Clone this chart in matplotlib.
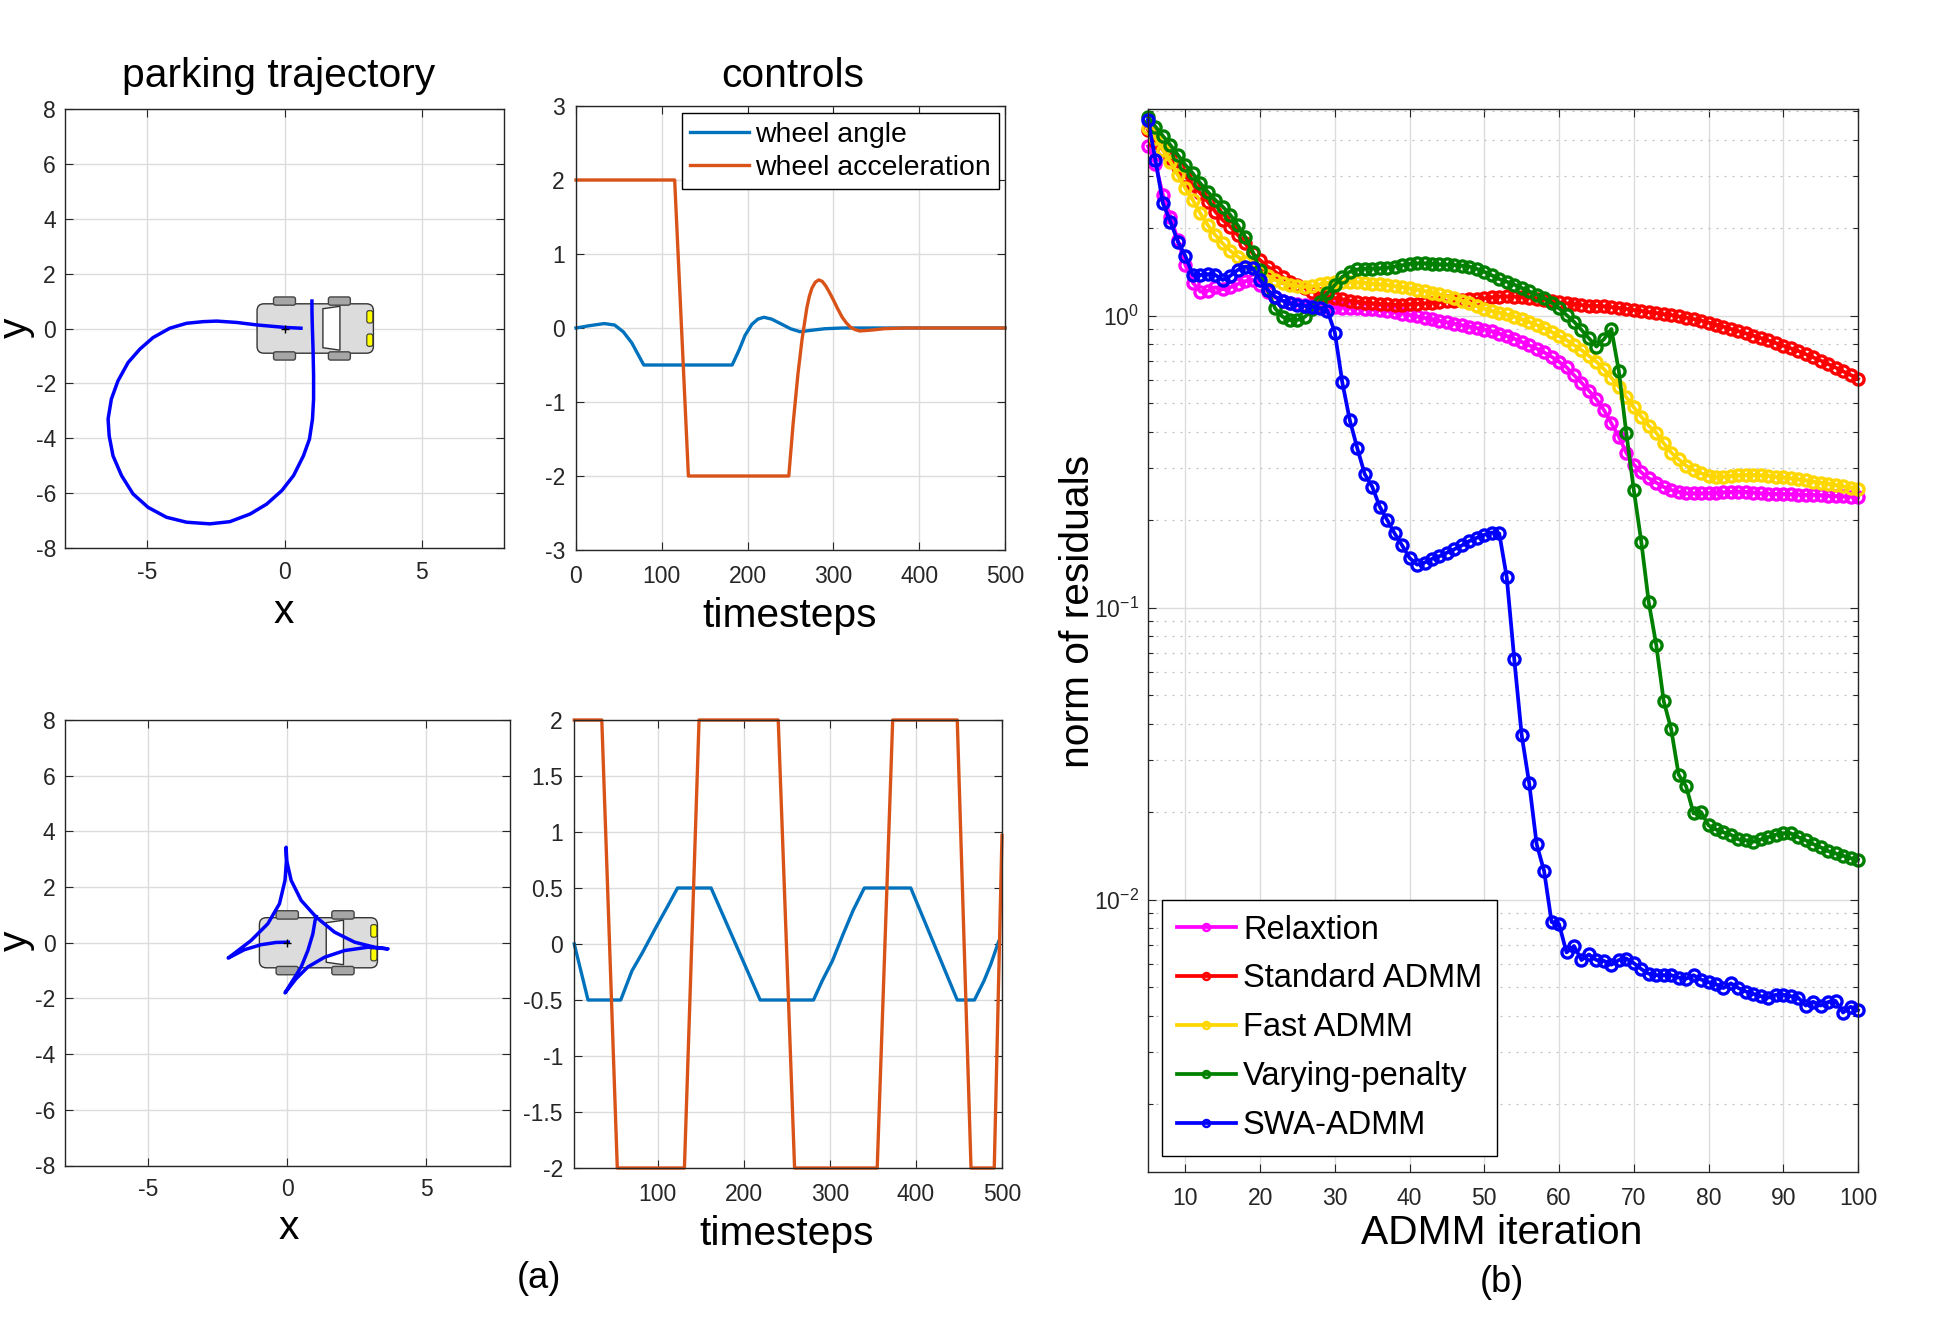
import numpy as np
import matplotlib
matplotlib.use('Agg')
import matplotlib.pyplot as plt
from matplotlib.patches import FancyBboxPatch, Polygon
from matplotlib.lines import Line2D
from matplotlib.ticker import FormatStrFormatter, LogLocator, NullFormatter

plt.rcParams['font.family'] = ['Liberation Sans', 'DejaVu Sans']
plt.rcParams['mathtext.fontset'] = 'custom'
plt.rcParams['mathtext.rm'] = 'Liberation Sans'
plt.rcParams['mathtext.default'] = 'regular'
plt.rcParams['axes.unicode_minus'] = False

# ---------------- data ----------------
# (a) top: parking trajectory (x, y)
park1_x = [0.60, 0.00, -1.01, -1.74, -2.47, -2.96, -3.57, -4.18, -4.79, -5.27, -5.70, -6.07,
           -6.31, -6.43, -6.39, -6.25, -5.94, -5.52, -4.97, -4.30, -3.57, -2.72, -1.99, -1.25,
           -0.65, -0.10, 0.33, 0.69, 0.91, 1.02, 1.06, 1.06, 1.04, 1.01, 1.00, 1.00]
park1_y = [0.01, 0.04, 0.13, 0.22, 0.27, 0.25, 0.19, 0.01, -0.33, -0.75, -1.24, -1.91,
           -2.57, -3.30, -3.91, -4.64, -5.36, -6.03, -6.52, -6.88, -7.06, -7.12, -7.04, -6.76,
           -6.40, -5.91, -5.36, -4.64, -4.03, -3.30, -2.57, -1.72, -0.75, 0.22, 0.70, 1.00]

# (a) bottom: trajectory with three cusps
park2_x = [1.04, 1.00, 0.92, 0.74, 0.50, 0.20, -0.08,
           0.32, 0.74, 1.34, 2.06, 2.90, 3.62,
           3.14, 2.42, 1.70, 1.04, 0.50, 0.14, -0.02, -0.04,
           -0.03, -0.08, -0.28, -0.70, -1.30, -2.12,
           -1.54, -0.94, -0.40, 0.04]
park2_y = [0.94, 0.80, 0.32, -0.28, -0.87, -1.35, -1.80,
           -1.29, -0.87, -0.52, -0.28, -0.16, -0.22,
           -0.16, 0.02, 0.38, 0.92, 1.52, 2.24, 2.95, 3.43,
           2.95, 2.24, 1.40, 0.68, 0.08, -0.55,
           -0.25, -0.07, 0.01, 0.02]

# controls, top
angle1_t = [0, 15, 33, 45, 55, 65, 72, 79, 182, 190, 197, 205, 212, 219, 228, 240, 250, 261, 275, 290, 310, 500]
angle1_v = [0.0, 0.03, 0.06, 0.04, -0.05, -0.2, -0.35, -0.5, -0.5, -0.3, -0.1, 0.05, 0.12, 0.145, 0.12,
            0.05, -0.01, -0.05, -0.03, -0.01, 0.0, 0.0]
accel1_t = [0, 115, 131, 248, 253, 258.6, 263.5, 269, 272, 275, 279, 283, 287, 291, 295, 299.5, 305,
            310, 315, 320, 325, 330.6, 343, 359, 384, 500]
accel1_v = [2, 2, -2, -2, -1.30, -0.63, -0.15, 0.27, 0.43, 0.54, 0.62, 0.65, 0.63, 0.57, 0.49, 0.39,
            0.26, 0.15, 0.07, 0.01, -0.02, -0.04, -0.03, -0.01, 0.0, 0.0]

# controls, bottom
angle2_t = [3, 19, 57, 70, 82, 98, 111, 123, 162, 219, 281, 291, 303, 315, 327, 340, 394, 448, 468,
            479, 487, 496]
angle2_v = [0.0, -0.5, -0.5, -0.24, -0.08, 0.15, 0.33, 0.5, 0.5, -0.5, -0.5, -0.33, -0.15, 0.08, 0.30,
            0.5, 0.5, -0.5, -0.5, -0.33, -0.18, 0.02]
accel2_t = [3, 35, 53, 131, 148, 240, 259, 355, 373, 448, 464, 491, 500]
accel2_v = [2, 2, -2, -2, 2, 2, -2, -2, 2, 2, -2, -2, 0.97]

# (b) norm of residuals, log10 values, iterations 5..100
iterations = list(range(5, 101))
relax_log10 = [0.580, 0.520, 0.413, 0.339, 0.259, 0.173, 0.113, 0.082, 0.085, 0.097,
               0.090, 0.097, 0.108, 0.118, 0.122, 0.105, 0.082, 0.062, 0.051, 0.044,
               0.040, 0.037, 0.035, 0.033, 0.031, 0.028, 0.027, 0.026, 0.025, 0.024,
               0.021, 0.019, 0.016, 0.011, 0.007, 0.002, -0.003, -0.008, -0.013, -0.018,
               -0.023, -0.028, -0.033, -0.038, -0.043, -0.048, -0.054, -0.062, -0.070, -0.079,
               -0.090, -0.102, -0.113, -0.126, -0.141, -0.158, -0.177, -0.204, -0.230, -0.257,
               -0.287, -0.323, -0.369, -0.415, -0.470, -0.510, -0.537, -0.557, -0.572, -0.587,
               -0.597, -0.604, -0.609, -0.609, -0.609, -0.608, -0.606, -0.605, -0.604, -0.603,
               -0.604, -0.606, -0.609, -0.610, -0.611, -0.611, -0.612, -0.613, -0.614, -0.614,
               -0.615, -0.617, -0.618, -0.619, -0.620, -0.622]
standard_log10 = [0.636, 0.596, 0.567, 0.539, 0.510, 0.478, 0.447, 0.419, 0.390, 0.356,
                  0.327, 0.305, 0.276, 0.247, 0.213, 0.190, 0.168, 0.150, 0.133, 0.116,
                  0.105, 0.093, 0.082, 0.074, 0.067, 0.060, 0.056, 0.051, 0.048, 0.044,
                  0.042, 0.040, 0.039, 0.037, 0.037, 0.039, 0.040, 0.042, 0.044, 0.046,
                  0.049, 0.051, 0.053, 0.056, 0.057, 0.059, 0.063, 0.065, 0.066, 0.065,
                  0.064, 0.061, 0.058, 0.055, 0.050, 0.045, 0.042, 0.039, 0.036, 0.034,
                  0.033, 0.032, 0.029, 0.026, 0.023, 0.019, 0.016, 0.012, 0.009, 0.005,
                  0.002, -0.003, -0.007, -0.012, -0.017, -0.024, -0.031, -0.038, -0.046, -0.053,
                  -0.061, -0.069, -0.077, -0.085, -0.094, -0.103, -0.112, -0.121, -0.132, -0.143,
                  -0.154, -0.166, -0.178, -0.191, -0.203, -0.217]
fast_log10 = [0.641, 0.607, 0.567, 0.527, 0.481, 0.436, 0.396, 0.350, 0.310, 0.276,
              0.247, 0.222, 0.202, 0.185, 0.168, 0.150, 0.136, 0.122, 0.113, 0.106,
              0.101, 0.099, 0.101, 0.107, 0.112, 0.115, 0.116, 0.116, 0.114, 0.112,
              0.109, 0.107, 0.105, 0.101, 0.098, 0.093, 0.089, 0.084, 0.078, 0.073,
              0.066, 0.059, 0.051, 0.042, 0.032, 0.024, 0.016, 0.010, 0.004, -0.004,
              -0.013, -0.022, -0.032, -0.042, -0.056, -0.070, -0.084, -0.101, -0.118, -0.138,
              -0.158, -0.183, -0.213, -0.243, -0.280, -0.314, -0.346, -0.377, -0.401, -0.437,
              -0.469, -0.492, -0.514, -0.529, -0.540, -0.548, -0.552, -0.552, -0.549, -0.547,
              -0.546, -0.546, -0.547, -0.549, -0.552, -0.554, -0.557, -0.561, -0.564, -0.569,
              -0.572, -0.576, -0.580, -0.585, -0.589, -0.595]
varying_log10 = [0.681, 0.647, 0.615, 0.584, 0.550, 0.516, 0.487, 0.453, 0.424, 0.396,
                 0.373, 0.345, 0.310, 0.270, 0.219, 0.156, 0.088, 0.025, -0.004, -0.015,
                 -0.015, -0.004, 0.021, 0.048, 0.076, 0.105, 0.133, 0.150, 0.158, 0.161,
                 0.161, 0.162, 0.164, 0.168, 0.172, 0.177, 0.179, 0.179, 0.177, 0.175,
                 0.175, 0.173, 0.171, 0.168, 0.160, 0.150, 0.138, 0.125, 0.116, 0.106,
                 0.095, 0.083, 0.072, 0.060, 0.044, 0.025, 0.002, -0.021, -0.049, -0.078,
                 -0.106, -0.081, -0.046, -0.190, -0.403, -0.597, -0.774, -0.982, -1.127, -1.320,
                 -1.416, -1.572, -1.612, -1.705, -1.700, -1.746, -1.760, -1.770, -1.778, -1.794,
                 -1.797, -1.802, -1.794, -1.786, -1.778, -1.773, -1.773, -1.786, -1.797, -1.810,
                 -1.821, -1.834, -1.842, -1.850, -1.858, -1.863]
swa_log10 = [0.670, 0.533, 0.384, 0.322, 0.253, 0.204, 0.139, 0.139, 0.142, 0.139,
             0.122, 0.136, 0.156, 0.168, 0.162, 0.122, 0.088, 0.065, 0.051, 0.042,
             0.036, 0.033, 0.031, 0.025, 0.017, -0.058, -0.229, -0.358, -0.454, -0.543,
             -0.586, -0.654, -0.700, -0.746, -0.787, -0.830, -0.853, -0.846, -0.833, -0.824,
             -0.812, -0.800, -0.787, -0.772, -0.761, -0.751, -0.743, -0.746, -0.896, -1.175,
             -1.437, -1.601, -1.810, -1.902, -2.077, -2.084, -2.181, -2.159, -2.207, -2.188,
             -2.207, -2.210, -2.223, -2.207, -2.202, -2.218, -2.238, -2.254, -2.259, -2.259,
             -2.259, -2.267, -2.271, -2.259, -2.274, -2.283, -2.290, -2.303, -2.287, -2.303,
             -2.315, -2.323, -2.331, -2.336, -2.326, -2.326, -2.331, -2.336, -2.363, -2.350,
             -2.363, -2.351, -2.347, -2.387, -2.367, -2.379]

series_names = ['Relaxtion', 'Standard ADMM', 'Fast ADMM', 'Varying-penalty', 'SWA-ADMM']
series_colors = ['#ff00ff', '#ff0000', '#ffd700', '#008000', '#0000ff']
series_data = [relax_log10, standard_log10, fast_log10, varying_log10, swa_log10]

# ---------------- figure ----------------
W, H = 1936, 1336
fig = plt.figure(figsize=(W / 100, H / 100), dpi=100)
TXT = '#262626'
BIG = 29.3


def add_ax(l, t, r, b):
    return fig.add_axes([l / W, 1 - b / H, (r - l) / W, (b - t) / H])


def style(ax, xpad, ypad):
    ax.tick_params(which='both', direction='in', top=True, right=True, labelsize=16.5,
                   labelcolor=TXT, color=TXT, width=0.8)
    ax.tick_params(which='major', length=6)
    ax.tick_params(which='minor', length=3.5)
    ax.tick_params(axis='x', pad=xpad)
    ax.tick_params(axis='y', pad=ypad)
    for s in ax.spines.values():
        s.set_color(TXT)
        s.set_linewidth(1.0)
    ax.grid(True, which='major', color='#dcdcdc', lw=1.0)
    ax.set_axisbelow(True)


def ftext(x, y, s, size=BIG, rot=0):
    fig.text(x / W, 1 - y / H, s, ha='center', va='center', fontsize=size, rotation=rot,
             color='black')


def boxed(leg):
    leg.get_frame().set_edgecolor('black')
    leg.get_frame().set_linewidth(1.0)


def draw_car(ax):
    body = FancyBboxPatch((-1.0, -0.9), 4.24, 1.8, boxstyle='round,pad=0,rounding_size=0.25',
                          fc='#dcdcdc', ec='#333333', lw=1.0, zorder=2)
    ax.add_patch(body)
    for cx in (0.0, 2.0):
        for cy in (1.0, -1.0):
            ax.add_patch(FancyBboxPatch((cx - 0.4, cy - 0.15), 0.8, 0.3,
                                        boxstyle='round,pad=0,rounding_size=0.08',
                                        fc='#a6a6a6', ec='#444444', lw=1.0, zorder=2))
    ax.add_patch(Polygon([(1.4, 0.72), (2.02, 0.81), (2.02, -0.79), (1.4, -0.70)],
                         closed=True, fc='white', ec='#333333', lw=1.0, zorder=2))
    for hy in (0.2, -0.65):
        ax.add_patch(FancyBboxPatch((3.0, hy), 0.22, 0.45, boxstyle='round,pad=0,rounding_size=0.08',
                                    fc='#ffff00', ec='#333333', lw=0.8, zorder=2))


# ---- parking trajectory (top) ----
ax1 = add_ax(65, 109, 504, 548)
style(ax1, 9, 6.5)
draw_car(ax1)
ax1.plot(park1_x, park1_y, color='#0000ff', lw=2.5, zorder=3, solid_joinstyle='round')
ax1.plot([0], [0], 'k+', ms=6, mew=1, zorder=4)
ax1.set_xlim(-8, 8)
ax1.set_ylim(-8, 8)
ax1.set_xticks([-5, 0, 5])
ax1.set_yticks(range(-8, 9, 2))

# ---- controls (top) ----
ax2 = add_ax(576, 106, 1005, 550)
style(ax2, 11, 8)
la, = ax2.plot(angle1_t, angle1_v, color='#0072BD', lw=2.4, clip_on=False)
lb, = ax2.plot(accel1_t, accel1_v, color='#D95319', lw=2.4, clip_on=False)
ax2.set_xlim(0, 500)
ax2.set_ylim(-3, 3)
ax2.set_xticks(range(0, 501, 100))
ax2.set_yticks(range(-3, 4))
leg2 = ax2.legend([la, lb], ['wheel angle', 'wheel acceleration'], loc='upper right',
                  bbox_to_anchor=(999 / W, 1 - 113 / H), bbox_transform=fig.transFigure,
                  fontsize=20.4, handlelength=2.05, handletextpad=0.22, labelspacing=0.25,
                  borderpad=0.3, borderaxespad=0, fancybox=False, framealpha=1)
boxed(leg2)

# ---- parking trajectory (bottom) ----
ax3 = add_ax(64.5, 720, 510, 1165.5)
style(ax3, 9, 6.5)
draw_car(ax3)
ax3.plot(park2_x, park2_y, color='#0000ff', lw=2.5, zorder=3, solid_joinstyle='round')
ax3.plot([0], [0], 'k+', ms=6, mew=1, zorder=4)
ax3.set_xlim(-8, 8)
ax3.set_ylim(-8, 8)
ax3.set_xticks([-5, 0, 5])
ax3.set_yticks(range(-8, 9, 2))

# ---- controls (bottom) ----
ax4 = add_ax(574, 720, 1002, 1168)
style(ax4, 11, 8)
ax4.plot(angle2_t, angle2_v, color='#0072BD', lw=2.4, clip_on=False)
ax4.plot(accel2_t, accel2_v, color='#D95319', lw=2.4, clip_on=False)
ax4.set_xlim(2.7, 500)
ax4.set_ylim(-2, 2)
ax4.set_xticks(range(100, 501, 100))
ax4.set_yticks(np.arange(-2, 2.01, 0.5))
ax4.yaxis.set_major_formatter(FormatStrFormatter('%g'))

# ---- (b) residuals ----
ax5 = add_ax(1148, 109, 1858, 1172)
style(ax5, 11, 6.5)
for vals, col in zip(series_data, series_colors):
    ax5.plot(iterations, 10 ** np.array(vals), color=col, lw=2.7, marker='o', ms=8,
             mfc='none', mew=2.4, clip_on=False)
ax5.set_yscale('log')
ax5.set_xlim(5, 100)
ax5.set_ylim(10 ** -2.933, 10 ** 0.7075)
ax5.set_xticks(range(10, 101, 10))
ax5.yaxis.set_major_locator(LogLocator(base=10, numticks=10))
ax5.yaxis.set_minor_locator(LogLocator(base=10, subs=np.arange(2, 10), numticks=20))
ax5.yaxis.set_minor_formatter(NullFormatter())
ax5.yaxis.grid(True, which='minor', color='#c0c0c0', ls=(0, (1.6, 4.8)), lw=0.9)
handles = [Line2D([], [], color=c, lw=2.7, marker='o', ms=5, mfc='none', mew=1.8)
           for c in series_colors]
leg5 = ax5.legend(handles, series_names, loc='lower left',
                  bbox_to_anchor=(1162.4 / W, 1 - 1156 / H), bbox_transform=fig.transFigure,
                  fontsize=23.5, handlelength=1.8, handletextpad=0.22, labelspacing=0.55,
                  borderpad=0.45, borderaxespad=0, fancybox=False, framealpha=1)
boxed(leg5)

# ---- texts ----
ftext(279, 76, 'parking trajectory')
ftext(793, 76, 'controls')
ftext(16, 328, 'y', rot=90)
ftext(284, 612, 'x')
ftext(790, 616, 'timesteps')
ftext(16, 941, 'y', rot=90)
ftext(289, 1228, 'x')
ftext(787, 1234, 'timesteps')
ftext(539, 1278, '(a)', size=26)
ftext(1502, 1233, 'ADMM iteration')
ftext(1078, 611, 'norm of residuals', rot=90)
ftext(1502, 1283, '(b)', size=26)

fig.savefig('out.png', dpi=100)
